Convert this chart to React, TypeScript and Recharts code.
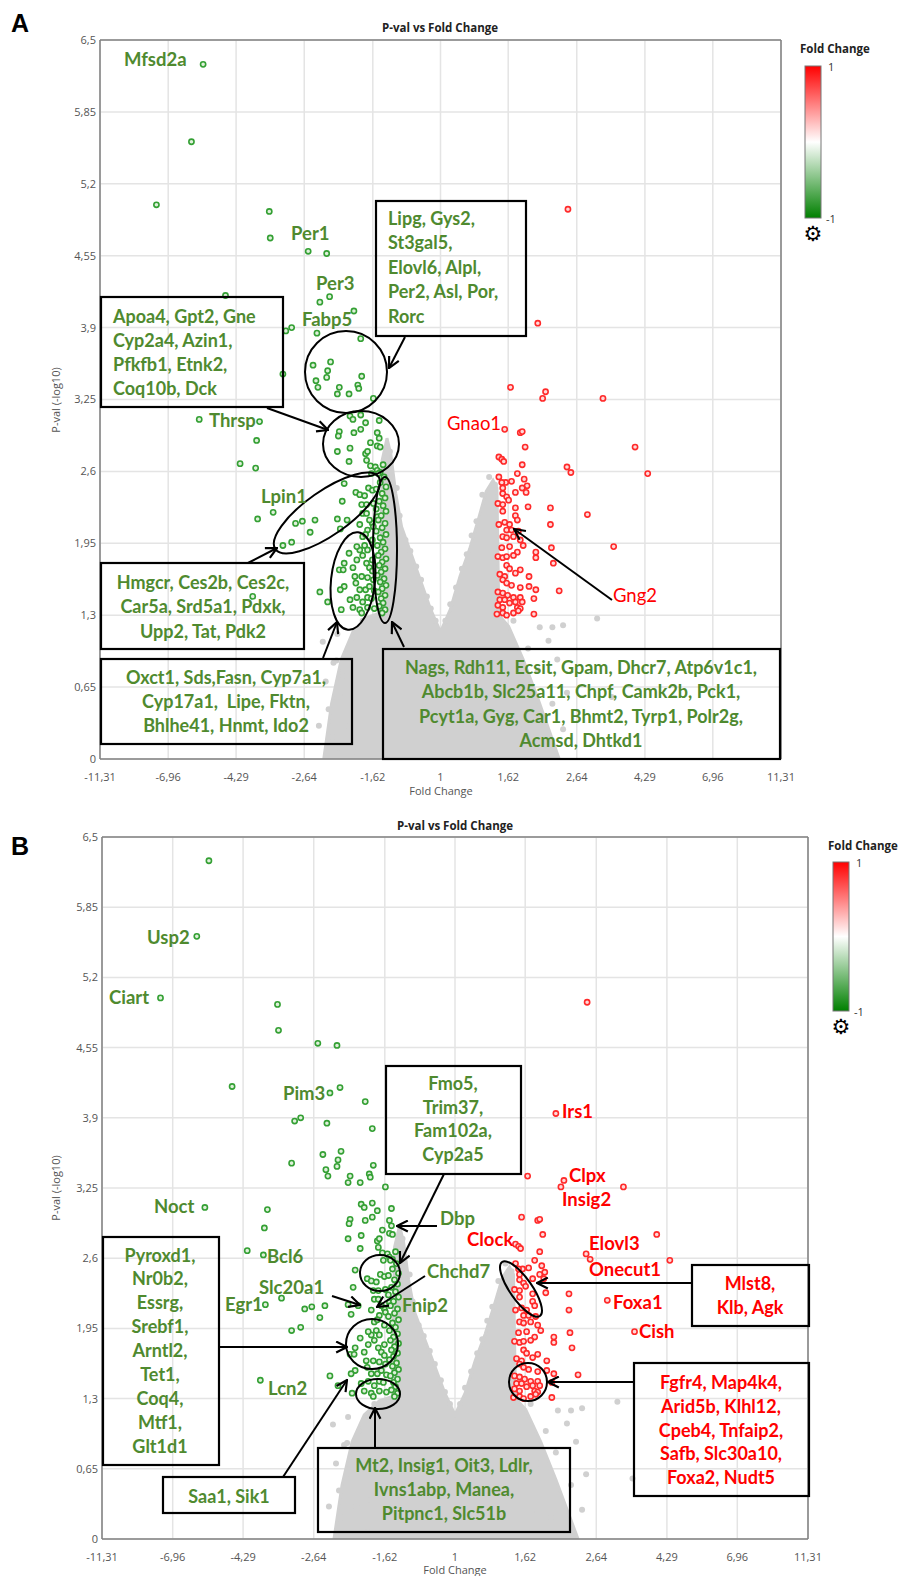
import React from 'react';
import { ComposedChart, Scatter, Area, XAxis, YAxis, CartesianGrid, ReferenceLine } from 'recharts';

// ---------- axis ticks ----------
const FC_TICK_LABELS = [-11.31, -6.96, -4.29, -2.64, -1.62, 1, 1.62, 2.64, 4.29, 6.96, 11.31];
const PVAL_TICKS = [0, 0.65, 1.3, 1.95, 2.6, 3.25, 3.9, 4.55, 5.2, 5.85, 6.5];

// ---------- data: [signed log2 fold change, -log10 p] ----------
const DOWN_GENES: [number, number][] = [
  [-2.44, 6.28], [-2.56, 5.58], [-2.92, 5.01], [-1.76, 4.95], [-1.75, 4.71], [-1.36, 4.59], [-1.17, 4.57],
  [-2.21, 4.19], [-1.24, 4.13], [-1.14, 4.18], [-0.89, 4.05], [-1.59, 3.87], [-1.53, 3.9], [-1.27, 3.85],
  [-0.82, 3.8], [-1.62, 3.48],
  [-1.31, 3.56], [-1.13, 3.59], [-1.16, 3.51], [-1.17, 3.45], [-1.28, 3.42], [-1.26, 3.36], [-1.04, 3.36],
  [-1.06, 3.3], [-0.94, 3.3], [-0.85, 3.38], [-0.84, 3.35], [-0.81, 3.46], [-0.69, 3.26],
  [-0.93, 3.1], [-0.82, 3.11], [-0.9, 3.07], [-0.77, 3.04], [-0.63, 3.06], [-1.04, 2.96], [-1.05, 2.92],
  [-0.89, 2.95], [-0.82, 2.98], [-0.65, 2.95], [-0.63, 2.9], [-0.72, 2.86], [-0.65, 2.83], [-0.62, 2.82],
  [-1.06, 2.78], [-0.93, 2.81], [-0.77, 2.76], [-0.75, 2.78], [-0.76, 2.7], [-0.94, 2.69], [-0.72, 2.65],
  [-0.67, 2.64], [-0.65, 2.61], [-0.59, 2.66], [-0.62, 2.59], [-0.71, 2.58],
  [-2.48, 3.07], [-1.86, 3.05], [-1.89, 2.88], [-2.06, 2.67], [-1.9, 2.63],
  [-1.88, 2.17], [-1.72, 2.23],
  [-1.62, 1.93], [-1.53, 1.96], [-1.49, 2.13], [-1.42, 2.15], [-1.34, 2.05], [-1.29, 2.16], [-1.06, 2.17],
  [-1.03, 2.08], [-0.96, 2.16], [-1.01, 2.33], [-0.99, 2.49], [-0.87, 2.41], [-0.83, 2.39], [-0.78, 2.38],
  [-0.74, 2.45], [-0.7, 2.43], [-0.81, 2.3], [-0.76, 2.3], [-0.8, 2.22], [-0.69, 2.31], [-0.65, 2.19], [-0.7, 2.13],
  [-1.24, 1.51], [-1.16, 1.42], [-1.02, 1.35], [-1.93, 1.47],
  [-0.94, 1.86], [-0.99, 1.77], [-1.04, 1.71], [-1.0, 1.71], [-0.9, 1.73], [-0.86, 1.8], [-0.83, 1.89],
  [-0.8, 1.84], [-0.76, 1.77], [-0.73, 1.73], [-0.88, 1.65], [-0.81, 1.65], [-0.75, 1.64], [-0.99, 1.56],
  [-1.03, 1.53], [-0.87, 1.59], [-0.83, 1.53], [-0.77, 1.53], [-0.73, 1.56], [-0.93, 1.44], [-0.86, 1.46],
  [-0.8, 1.42], [-0.75, 1.46], [-0.9, 1.37], [-0.83, 1.35], [-0.81, 1.32], [-0.75, 1.37], [-0.86, 1.92],
  [-0.78, 1.93], [-0.75, 1.89],
  [-0.76, 2.22], [-0.73, 2.16], [-0.69, 2.1], [-0.75, 2.07], [-0.8, 2.01], [-0.7, 1.98], [-0.83, 2.12], [-0.77, 2.03],
  [-0.7, 1.8], [-0.69, 1.62], [-0.71, 1.45], [-0.68, 1.36], [-0.7, 1.7], [-0.68, 1.52],
  [-0.64, 2.58], [-0.58, 2.55], [-0.62, 2.5], [-0.56, 2.46], [-0.66, 2.44], [-0.6, 2.4], [-0.57, 2.36],
  [-0.63, 2.33], [-0.59, 2.29], [-0.66, 2.26], [-0.56, 2.24], [-0.61, 2.2], [-0.64, 2.16], [-0.57, 2.13],
  [-0.6, 2.09], [-0.66, 2.06], [-0.56, 2.03], [-0.62, 2.0], [-0.59, 1.96], [-0.65, 1.93], [-0.57, 1.9],
  [-0.61, 1.87], [-0.64, 1.84], [-0.56, 1.81], [-0.6, 1.78], [-0.63, 1.75], [-0.57, 1.72], [-0.61, 1.69],
  [-0.65, 1.66], [-0.58, 1.63], [-0.62, 1.6], [-0.56, 1.57], [-0.6, 1.54], [-0.64, 1.51], [-0.57, 1.48],
  [-0.61, 1.45], [-0.59, 1.41], [-0.63, 1.38], [-0.57, 1.35], [-0.6, 1.32],
];

const UP_GENES: [number, number][] = [
  [1.31, 4.97], [1.0, 3.94], [0.72, 3.36], [1.08, 3.32], [1.05, 3.26], [1.67, 3.26], [0.66, 2.98], [0.82, 2.95],
  [0.84, 2.96], [0.87, 2.82], [2.0, 2.82], [0.6, 2.73], [0.63, 2.71], [0.65, 2.69], [0.84, 2.66], [1.3, 2.64],
  [1.34, 2.59], [2.13, 2.58], [0.6, 2.55], [0.79, 2.58], [0.73, 2.51], [0.67, 2.5], [0.63, 2.5], [0.86, 2.53],
  [0.89, 2.47], [0.84, 2.45], [0.88, 2.41], [0.64, 2.45], [0.64, 2.4], [0.68, 2.37], [0.77, 2.41], [0.59, 2.31],
  [0.64, 2.3], [0.7, 2.34], [0.9, 2.28], [1.13, 2.27], [0.77, 2.27], [0.64, 2.24], [0.77, 2.2], [0.79, 2.16],
  [1.51, 2.21], [0.6, 2.12], [0.66, 2.14], [0.71, 2.12], [1.13, 2.12], [0.68, 2.07], [0.73, 2.07], [0.8, 2.06],
  [0.64, 2.01], [0.68, 2.0], [0.75, 2.01], [0.82, 1.98], [0.85, 1.93], [1.14, 1.91], [1.78, 1.92], [0.63, 1.91],
  [0.71, 1.92], [0.79, 1.87], [0.98, 1.87], [0.59, 1.83], [0.64, 1.82], [0.68, 1.83], [0.75, 1.84], [0.98, 1.82],
  [1.16, 1.77], [0.68, 1.75], [0.71, 1.72], [0.82, 1.71], [0.77, 1.68], [0.61, 1.67], [0.66, 1.65], [0.91, 1.65],
  [0.64, 1.62], [0.68, 1.59], [0.73, 1.57], [0.82, 1.55], [0.91, 1.56], [0.98, 1.53], [1.22, 1.52], [0.59, 1.51],
  [0.64, 1.5], [0.69, 1.48], [0.75, 1.46], [0.82, 1.46], [0.61, 1.44], [0.66, 1.44], [0.71, 1.41], [0.77, 1.42],
  [0.84, 1.42], [0.96, 1.45], [0.59, 1.39], [0.64, 1.37], [0.79, 1.37], [0.82, 1.36], [0.58, 1.31], [0.64, 1.32],
  [0.68, 1.3], [0.75, 1.32], [0.96, 1.31], [0.8, 1.34],
];

// upper edge of the dense grey cloud of non-significant genes
const CLOUD_X = [-1.2, -1.12, -1.02, -0.9, -0.75, -0.62, -0.6, -0.55, -0.51, -0.46, -0.4, -0.3, -0.2, -0.1, 0.0,
  0.1, 0.2, 0.3, 0.4, 0.47, 0.54, 0.58, 0.6, 0.7, 0.85, 1.0, 1.12, 1.22];
const CLOUD_TOP = [0, 0.5, 0.9, 1.15, 1.28, 1.32, 2.7, 2.9, 2.75, 2.4, 2.1, 1.85, 1.6, 1.35, 1.15,
  1.35, 1.65, 1.9, 2.2, 2.42, 2.52, 2.45, 1.3, 1.2, 0.9, 0.55, 0.25, 0];

const NS_GENES: [number, number][] = [
  [-1.1, 0.87], [-1.03, 0.6], [-0.9, 0.11], [-1.06, 1.13], [-1.21, 1.06], [-1.07, 0.89], [-0.87, 0.36],
  [-1.11, 0.2], [-0.86, 0.06], [-0.71, 1.26], [-0.95, 1.0], [-1.0, 0.75], [-0.98, 0.3], [-1.15, 0.45],
  [-0.9, 1.1], [-0.8, 1.25], [-1.05, 0.1], [-0.93, 0.6], [-1.25, 0.3], [-1.18, 0.7],
  [-0.45, 2.45], [-0.42, 2.2], [-0.36, 1.98], [-0.31, 1.88], [-0.25, 1.74], [-0.2, 1.62], [-0.14, 1.47],
  [-0.1, 1.36], [-0.05, 1.25], [-0.52, 2.78],
  [0.05, 1.25], [0.1, 1.4], [0.16, 1.55], [0.22, 1.72], [0.27, 1.85], [0.32, 2.02], [0.37, 2.15], [0.43, 2.39],
  [0.5, 2.55], [0.56, 2.48],
  [1.61, 1.27], [1.26, 1.21], [1.15, 1.19], [1.02, 1.19], [1.11, 1.07], [1.26, 0.27], [1.76, 0.56], [0.84, 0.7],
  [0.81, 0.27], [0.9, 1.0], [0.75, 1.25], [1.0, 0.8], [1.15, 0.5], [1.3, 0.6], [0.95, 0.2], [1.2, 0.9],
];

// ---------- helpers ----------
const toAxis = (fc: number) => (fc === 1 ? 0 : Math.sign(fc) * Math.log2(Math.abs(fc)));
const X_TICKS = FC_TICK_LABELS.map(toAxis);
const comma = (v: number) => String(v).replace('.', ',');
const fmtX = (v: number) => {
  let best = 0;
  X_TICKS.forEach((t, i) => { if (Math.abs(t - v) < Math.abs(X_TICKS[best] - v)) best = i; });
  return comma(FC_TICK_LABELS[best]);
};
const pts = (a: [number, number][]) => a.map(([x, y]) => ({ x, y }));
const cloudData = CLOUD_X.map((x, i) => ({ x, top: CLOUD_TOP[i] }));
const downData = pts(DOWN_GENES);
const upData = pts(UP_GENES);
const nsData = pts(NS_GENES);

const ring = (stroke: string, fill: string) => (p: any) =>
  <circle cx={p.cx} cy={p.cy} r={2.6} stroke={stroke} strokeWidth={1.6} fill={fill} />;
const dot = (p: any) => <circle cx={p.cx} cy={p.cy} r={3} fill="#d0d0d0" />;

const tickStyle = { fontSize: 11, fill: '#555', fontFamily: 'Open Sans, sans-serif' };
const AXIS = '#808080';

function Volcano({ height, margin }: { height: number; margin: any }) {
  return (
    <ComposedChart width={907} height={height} margin={margin}>
      <CartesianGrid stroke="#e4e4e4" strokeWidth={1.5} />
      <XAxis type="number" dataKey="x" domain={[-3.5, 3.5]} ticks={X_TICKS} interval={0} allowDataOverflow
        tickFormatter={fmtX} tickLine={false} tickSize={4} tickMargin={10} height={20}
        axisLine={{ stroke: AXIS, strokeWidth: 1.5 }} tick={tickStyle} />
      <YAxis type="number" domain={[0, 6.5]} ticks={PVAL_TICKS} interval={0} allowDataOverflow
        tickFormatter={comma} tickLine={false} tickSize={2} tickMargin={2} width={60}
        axisLine={{ stroke: AXIS, strokeWidth: 1.5 }} tick={tickStyle} />
      <ReferenceLine y={6.5} stroke={AXIS} strokeWidth={1.5} />
      <ReferenceLine x={3.5} stroke={AXIS} strokeWidth={1.5} />
      <Area data={cloudData} dataKey="top" type="linear" stroke="#d0d0d0" strokeWidth={3} fill="#d0d0d0"
        fillOpacity={1} baseValue={0} isAnimationActive={false} dot={false} activeDot={false} />
      <Scatter data={nsData} dataKey="y" shape={dot} isAnimationActive={false} />
      <Scatter data={downData} dataKey="y" shape={ring('#34a034', '#dff0da')} isAnimationActive={false} />
      <Scatter data={upData} dataKey="y" shape={ring('#ff2a2a', '#ffd8d8')} isAnimationActive={false} />
    </ComposedChart>
  );
}

// ---------- annotations (page pixel layout) ----------
const GREEN = '#4f8a2f';
const RED = '#ff0000';
const FONT = 'Lato, Carlito, sans-serif';

type Lbl = { t: string; x: number; y: number; c: string; w?: number };
const LABELS: Lbl[] = [
  { t: 'Mfsd2a', x: 124, y: 66, c: GREEN }, { t: 'Per1', x: 291, y: 240, c: GREEN },
  { t: 'Per3', x: 316, y: 290, c: GREEN }, { t: 'Fabp5', x: 302, y: 326, c: GREEN },
  { t: 'Thrsp', x: 209, y: 427, c: GREEN }, { t: 'Lpin1', x: 261, y: 503, c: GREEN },
  { t: 'Gnao1', x: 447, y: 430, c: RED, w: 400 }, { t: 'Gng2', x: 613, y: 602, c: RED, w: 400 },
  { t: 'Usp2', x: 147, y: 944, c: GREEN }, { t: 'Ciart', x: 109, y: 1004, c: GREEN },
  { t: 'Pim3', x: 283, y: 1100, c: GREEN }, { t: 'Noct', x: 154, y: 1213, c: GREEN },
  { t: 'Bcl6', x: 267, y: 1263, c: GREEN }, { t: 'Slc20a1', x: 259, y: 1294, c: GREEN },
  { t: 'Egr1', x: 225, y: 1311, c: GREEN }, { t: 'Lcn2', x: 268, y: 1395, c: GREEN },
  { t: 'Dbp', x: 440, y: 1225, c: GREEN }, { t: 'Chchd7', x: 427, y: 1278, c: GREEN },
  { t: 'Fnip2', x: 402, y: 1312, c: GREEN },
  { t: 'Irs1', x: 562, y: 1118, c: RED }, { t: 'Clpx', x: 569, y: 1182, c: RED },
  { t: 'Insig2', x: 562, y: 1206, c: RED }, { t: 'Clock', x: 467, y: 1246, c: RED },
  { t: 'Elovl3', x: 589, y: 1250, c: RED }, { t: 'Onecut1', x: 589, y: 1276, c: RED },
  { t: 'Foxa1', x: 613, y: 1309, c: RED }, { t: 'Cish', x: 639, y: 1338, c: RED },
];

type Box = { x: number; y: number; w: number; h: number; lines: string[]; tx: number; ty: number; lh: number; c: string; anchor: 'start' | 'middle' };
const BOXES: Box[] = [
  { x: 376, y: 201, w: 150, h: 135, tx: 388, ty: 225, lh: 24.4, c: GREEN, anchor: 'start',
    lines: ['Lipg, Gys2,', 'St3gal5,', 'Elovl6, Alpl,', 'Per2, Asl, Por,', 'Rorc'] },
  { x: 101, y: 297, w: 182, h: 110, tx: 113, ty: 323, lh: 24, c: GREEN, anchor: 'start',
    lines: ['Apoa4, Gpt2, Gne', 'Cyp2a4, Azin1,', 'Pfkfb1, Etnk2,', 'Coq10b, Dck'] },
  { x: 101, y: 563, w: 203, h: 86, tx: 203, ty: 589, lh: 24.3, c: GREEN, anchor: 'middle',
    lines: ['Hmgcr, Ces2b, Ces2c,', 'Car5a, Srd5a1, Pdxk,', 'Upp2, Tat, Pdk2'] },
  { x: 101, y: 659, w: 251, h: 85, tx: 226, ty: 684, lh: 24, c: GREEN, anchor: 'middle',
    lines: ['Oxct1, Sds,Fasn, Cyp7a1,', 'Cyp17a1,  Lipe, Fktn,', 'Bhlhe41, Hnmt, Ido2'] },
  { x: 383, y: 649, w: 397, h: 110, tx: 581, ty: 674, lh: 24.3, c: GREEN, anchor: 'middle',
    lines: ['Nags, Rdh11, Ecsit, Gpam, Dhcr7, Atp6v1c1,', 'Abcb1b, Slc25a11, Chpf, Camk2b, Pck1,', 'Pcyt1a, Gyg, Car1, Bhmt2, Tyrp1, Polr2g,', 'Acmsd, Dhtkd1'] },
  { x: 386, y: 1066, w: 135, h: 108, tx: 453, ty: 1090, lh: 23.7, c: GREEN, anchor: 'middle',
    lines: ['Fmo5,', 'Trim37,', 'Fam102a,', 'Cyp2a5'] },
  { x: 103, y: 1237, w: 116, h: 228, tx: 160, ty: 1261.5, lh: 23.9, c: GREEN, anchor: 'middle',
    lines: ['Pyroxd1,', 'Nr0b2,', 'Essrg,', 'Srebf1,', 'Arntl2,', 'Tet1,', 'Coq4,', 'Mtf1,', 'Glt1d1'] },
  { x: 163, y: 1477, w: 132, h: 36, tx: 229, ty: 1503, lh: 24, c: GREEN, anchor: 'middle', lines: ['Saa1, Sik1'] },
  { x: 318, y: 1448, w: 252, h: 84, tx: 444, ty: 1472, lh: 24, c: GREEN, anchor: 'middle',
    lines: ['Mt2, Insig1, Oit3, Ldlr,', 'Ivns1abp, Manea,', 'Pitpnc1, Slc51b'] },
  { x: 692, y: 1265, w: 117, h: 61, tx: 750, ty: 1290, lh: 24, c: RED, anchor: 'middle', lines: ['Mlst8,', 'Klb, Agk'] },
  { x: 634, y: 1363, w: 175, h: 133, tx: 721, ty: 1389, lh: 23.8, c: RED, anchor: 'middle',
    lines: ['Fgfr4, Map4k4,', 'Arid5b, Klhl12,', 'Cpeb4, Tnfaip2,', 'Safb, Slc30a10,', 'Foxa2, Nudt5'] },
];

type Ell = { cx: number; cy: number; rx: number; ry: number; rot: number };
const ELLIPSES: Ell[] = [
  { cx: 346, cy: 372, rx: 41, ry: 41, rot: 0 }, { cx: 361, cy: 444, rx: 38, ry: 33, rot: 0 },
  { cx: 327, cy: 513, rx: 63, ry: 22, rot: -35 }, { cx: 353, cy: 581, rx: 22, ry: 49, rot: 6 },
  { cx: 385, cy: 550, rx: 12, ry: 73, rot: 0 },
  { cx: 380, cy: 1273, rx: 20, ry: 18, rot: 0 }, { cx: 372, cy: 1344, rx: 26, ry: 25, rot: 0 },
  { cx: 378, cy: 1394, rx: 22, ry: 15, rot: 0 }, { cx: 521, cy: 1289, rx: 33, ry: 11, rot: 55 },
  { cx: 528, cy: 1382, rx: 19, ry: 19, rot: 0 },
];

const ARROWS: [number, number, number, number][] = [
  [405, 337, 389, 368], [267, 408, 328, 430], [248, 563, 277, 548], [323, 658, 337, 622],
  [404, 647, 392, 622], [612, 600, 514, 529],
  [444, 1174, 400, 1263], [437, 1226, 397, 1226], [425, 1276, 377, 1307], [332, 1296, 360, 1305],
  [219, 1347, 347, 1347], [283, 1477, 347, 1380], [375, 1448, 375, 1408], [692, 1283, 537, 1283],
  [634, 1382, 548, 1382],
];

type Panel = { letter: string; ly: number; titleX: number; titleY: number; cbX: number; cbY: number; cbH: number;
  cbTitleX: number; cbTitleY: number; xLabX: number; xLabY: number; yLabY: number };
const PANELS: Panel[] = [
  { letter: 'A', ly: 32, titleX: 440, titleY: 32, cbX: 805, cbY: 66, cbH: 152, cbTitleX: 800, cbTitleY: 53, xLabX: 441, xLabY: 795, yLabY: 400 },
  { letter: 'B', ly: 855, titleX: 455, titleY: 830, cbX: 833, cbY: 862, cbH: 149, cbTitleX: 828, cbTitleY: 850, xLabX: 455, xLabY: 1574, yLabY: 1188 },
];

function Overlay() {
  return (
    <svg width={907} height={1576} style={{ position: 'absolute', left: 0, top: 0, pointerEvents: 'none' }}>
      <defs>
        <linearGradient id="fcgrad" x1="0" y1="0" x2="0" y2="1">
          <stop offset="0%" stopColor="#ff0000" />
          <stop offset="50%" stopColor="#ffffff" />
          <stop offset="100%" stopColor="#008000" />
        </linearGradient>
        <marker id="arr" viewBox="0 0 12 12" refX="11" refY="6" markerWidth="13" markerHeight="13"
          markerUnits="userSpaceOnUse" orient="auto">
          <path d="M1,1 L11,6 L1,11" stroke="#000" strokeWidth={2} fill="none" />
        </marker>
      </defs>
      {PANELS.map((p) => (
        <g key={p.letter}>
          <text x={11} y={p.ly} fontFamily="Liberation Sans, Arial, sans-serif" fontWeight={700} fontSize={25}>{p.letter}</text>
          <text x={p.titleX} y={p.titleY} textAnchor="middle" fontFamily="Open Sans, sans-serif" fontWeight={700} fontSize={11.5} fill="#222">P-val vs Fold Change</text>
          <text x={p.cbTitleX} y={p.cbTitleY} fontFamily="Open Sans, sans-serif" fontWeight={700} fontSize={11.5} fill="#222">Fold Change</text>
          <rect x={p.cbX} y={p.cbY} width={16} height={p.cbH} fill="url(#fcgrad)" stroke="#777" strokeWidth={1} />
          <text x={p.cbX + 23} y={p.cbY + 5} fontFamily="Open Sans, sans-serif" fontSize={11} fill="#333">1</text>
          <text x={p.cbX + 21} y={p.cbY + p.cbH + 5} fontFamily="Open Sans, sans-serif" fontSize={11} fill="#333">-1</text>
          <text x={p.cbX + 8} y={p.cbY + p.cbH + 23} textAnchor="middle" fontFamily="DejaVu Sans" fontSize={21} fill="#000">⚙</text>
          <text x={p.xLabX} y={p.xLabY} textAnchor="middle" fontFamily="Open Sans, sans-serif" fontSize={11} fill="#555">Fold Change</text>
          <text transform={`translate(60,${p.yLabY}) rotate(-90)`} textAnchor="middle" fontFamily="Open Sans, sans-serif" fontSize={11} fill="#555">P-val (-log10)</text>
        </g>
      ))}
      {ELLIPSES.map((e, i) => (
        <ellipse key={'e' + i} cx={e.cx} cy={e.cy} rx={e.rx} ry={e.ry} transform={`rotate(${e.rot} ${e.cx} ${e.cy})`}
          fill="none" stroke="#000" strokeWidth={2} />
      ))}
      {ARROWS.map(([x1, y1, x2, y2], i) => (
        <line key={'a' + i} x1={x1} y1={y1} x2={x2} y2={y2} stroke="#000" strokeWidth={2} markerEnd="url(#arr)" />
      ))}
      {BOXES.map((b, i) => (
        <g key={'b' + i}>
          <rect x={b.x} y={b.y} width={b.w} height={b.h} fill="none" stroke="#000" strokeWidth={2.2} />
          {b.lines.map((l, j) => (
            <text key={j} x={b.tx} y={b.ty + j * b.lh} textAnchor={b.anchor} fontFamily={FONT} fontWeight={700}
              fontSize={18} fill={b.c} style={{ whiteSpace: 'pre' }}>{l}</text>
          ))}
        </g>
      ))}
      {LABELS.map((l, i) => (
        <text key={'l' + i} x={l.x} y={l.y} fontFamily={FONT} fontWeight={l.w ?? 700} fontSize={18.5} fill={l.c}>{l.t}</text>
      ))}
    </svg>
  );
}

export default function App() {
  return (
    <div style={{ position: 'absolute', left: 0, top: 0, width: 907, height: 1576, background: '#fff' }}>
      <div style={{ position: 'absolute', left: 0, top: 0 }}>
        <Volcano height={790} margin={{ top: 40, right: 126, bottom: 11, left: 40 }} />
      </div>
      <div style={{ position: 'absolute', left: 0, top: 790 }}>
        <Volcano height={786} margin={{ top: 47, right: 99, bottom: 17, left: 42 }} />
      </div>
      <Overlay />
    </div>
  );
}
